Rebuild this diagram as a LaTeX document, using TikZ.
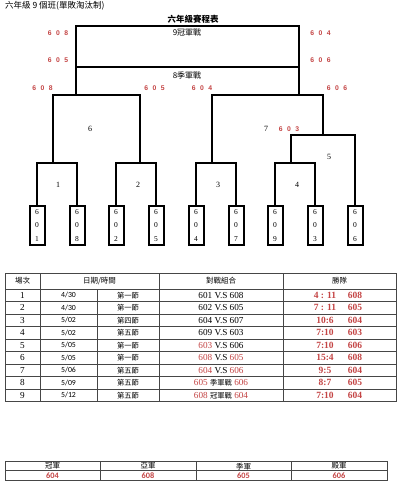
\documentclass[tikz,border=0pt]{standalone}
\usepackage{fontspec}
\setmainfont{Liberation Serif}
\setsansfont{Liberation Sans}
\newfontfamily\cjk{Noto Sans CJK TC}
\newfontfamily\carl{Carlito}
\definecolor{redc}{RGB}{196,68,68}
\definecolor{gridc}{RGB}{70,70,70}
\newcommand\R[1]{\textcolor{redc}{#1}}
\newcommand\spacednum[3]{#1\hspace{4.4pt}#2\hspace{4.4pt}#3}
\newcommand\trow[6]{%
 \node[tnum] (r#1c1) at (22.5,{295.25+12.5*(#1-1)}) {#1};
 \node[dcell] (r#1c2) at (68.5,{295.25+12.5*(#1-1)}) {#2};
 \node[ccell] (r#1c3) at (128,{295.25+12.5*(#1-1)}) {#3};
 \node[tnum] (r#1c4) at (221,{295.25+12.5*(#1-1)}) {#4};
 \node[scell] (r#1c5) at (325,{295.25+12.5*(#1-1)}) {#5};
 \node[scell] (r#1c6) at (355,{295.25+12.5*(#1-1)}) {#6};
}
\tikzset{
 bline/.style={line width=2pt, line join=miter},
 teambox/.style={draw, line width=2pt, minimum width=15pt, minimum height=39pt, inner sep=0pt, align=center, font=\fontsize{7.5}{13.5}\selectfont},
 mlabel/.style={inner sep=0pt, font=\fontsize{8}{9}\selectfont},
 rlabel/.style={inner sep=0pt, text=redc, font=\sffamily\bfseries\fontsize{6.8}{8}\selectfont},
 clabel/.style={inner sep=0pt, font=\cjk\fontsize{8}{9}\selectfont},
 grid/.style={draw=gridc, line width=0.7pt},
 hcell/.style={inner sep=0pt, font=\cjk\fontsize{7.5}{8}\selectfont},
 tnum/.style={inner sep=0pt, font=\fontsize{9.2}{10}\selectfont},
 dcell/.style={inner sep=0pt, font=\carl\fontsize{7.8}{9}\selectfont},
 ccell/.style={inner sep=0pt, font=\cjk\fontsize{7.3}{8}\selectfont},
 scell/.style={inner sep=0pt, text=redc, font=\fontsize{9.5}{10}\selectfont\bfseries},
 vcell/.style={inner sep=0pt, text=redc, font=\carl\fontsize{8.3}{10}\selectfont\bfseries},
}
\begin{document}
\begin{tikzpicture}[x=1pt,y=-1pt]
\useasboundingbox[fill=white] (0,0) rectangle (400,494);
% titles
\node[clabel, anchor=west, font=\cjk\fontsize{8.5}{9}\selectfont] (title) at (5,6) {六年級 9 個班(單敗淘汰制)};
\node[clabel, font=\cjk\bfseries\fontsize{8.5}{9}\selectfont] (head) at (193,19) {六年級賽程表};
% team boxes
\foreach \n/\x/\a/\b/\c in {t601/37/6/0/1, t608/77/6/0/8, t602/116/6/0/2, t605/156/6/0/5, t604/196/6/0/4, t607/236/6/0/7, t609/275/6/0/9, t603/315/6/0/3, t606/355/6/0/6}
  \node[teambox] (\n) at (\x,225.5) {\a\\\b\\\c};
% junctions
\coordinate (m1) at (53,163);
\coordinate (m2) at (140,163);
\coordinate (m3) at (212,163);
\coordinate (m4) at (291,163);
\coordinate (m5) at (323,135);
\coordinate (m6) at (76,95);
\coordinate (m7) at (299,95);
\coordinate (c9) at (187.5,26);
\coordinate (c8) at (187.5,67);
% bracket lines
\draw[bline] (t601.north) |- (m1) -| (t608.north);
\draw[bline] (t602.north) |- (m2) -| (t605.north);
\draw[bline] (t604.north) |- (m3) -| (t607.north);
\draw[bline] (t609.north) |- (m4) -| (t603.north);
\draw[bline] (m4) |- (m5) -| (t606.north);
\draw[bline] (m1) |- (m6) -| (m2);
\draw[bline] (m3) |- (m7) -| (m5);
\draw[bline] (m6) |- (c9) -| (m7);
\draw[bline] (m6) |- (c8) -| (m7);
% bracket labels
\node[clabel] (g9) at (187,33) {9冠軍戰};
\node[clabel] (g8) at (187,75) {8季軍戰};
\node[mlabel] (g6) at (90,129) {6};
\node[mlabel] (g7) at (266,129) {7};
\node[mlabel] (g5) at (329,157) {5};
\node[mlabel] (g1) at (58,185) {1};
\node[mlabel] (g2) at (138,185) {2};
\node[mlabel] (g3) at (218,185) {3};
\node[mlabel] (g4) at (297,185) {4};
\node[rlabel] (a1) at (58,33) {\spacednum608};
\node[rlabel] (a2) at (58,60) {\spacednum605};
\node[rlabel] (a3) at (320.5,33) {\spacednum604};
\node[rlabel] (a4) at (320.5,60) {\spacednum606};
\node[rlabel] (a5) at (42.5,88) {\spacednum608};
\node[rlabel] (a6) at (154.5,88) {\spacednum605};
\node[rlabel] (a7) at (202,88) {\spacednum604};
\node[rlabel] (a8) at (337,88) {\spacednum606};
\node[rlabel] (a9) at (289,129) {\spacednum603};
% schedule table
\draw[grid] (5,273) rectangle (396,401.5);
\draw[grid] (40,273) -- (40,401.5);
\draw[grid] (97,289) -- (97,401.5);
\draw[grid] (159,273) -- (159,401.5);
\draw[grid] (283,273) -- (283,401.5);
\foreach \k in {0,...,8} \draw[grid] (5,{289+12.5*\k}) -- (396,{289+12.5*\k});
\node[hcell] (h1) at (22.5,281) {場次};
\node[hcell] (h2) at (99.5,281) {日期/時間};
\node[hcell] (h3) at (221,281) {對戰組合};
\node[hcell] (h4) at (339.5,281) {勝隊};
\trow{1}{4/30}{第一節}{601 V.S 608}{4 : 11}{608}
\trow{2}{4/30}{第一節}{602 V.S 605}{7 : 11}{605}
\trow{3}{5/02}{第四節}{604 V.S 607}{10:6}{604}
\trow{4}{5/02}{第五節}{609 V.S 603}{7:10}{603}
\trow{5}{5/05}{第一節}{\R{603} V.S 606}{7:10}{606}
\trow{6}{5/05}{第一節}{\R{608} V.S \R{605}}{15:4}{608}
\trow{7}{5/06}{第五節}{\R{604} V.S \R{606}}{9:5}{604}
\trow{8}{5/09}{第五節}{\R{605} {\cjk\fontsize{7.3}{8}\selectfont 季軍戰} \R{606}}{8:7}{605}
\trow{9}{5/12}{第五節}{\R{608} {\cjk\fontsize{7.3}{8}\selectfont 冠軍戰} \R{604}}{7:10}{604}
% ranking table
\draw[grid] (5,461.7) rectangle (387,480);
\draw[grid] (5,470.7) -- (387,470.7);
\foreach \x in {100,196,291} \draw[grid] (\x,461.7) -- (\x,480);
\node[hcell] (k1) at (52.5,466.2) {冠軍};
\node[hcell] (k2) at (148,466.2) {亞軍};
\node[hcell] (k3) at (243.5,466.2) {季軍};
\node[hcell] (k4) at (339,466.2) {殿軍};
\node[vcell] (v1) at (52.5,475.5) {604};
\node[vcell] (v2) at (148,475.5) {608};
\node[vcell] (v3) at (243.5,475.5) {605};
\node[vcell] (v4) at (339,475.5) {606};
\end{tikzpicture}
\end{document}
